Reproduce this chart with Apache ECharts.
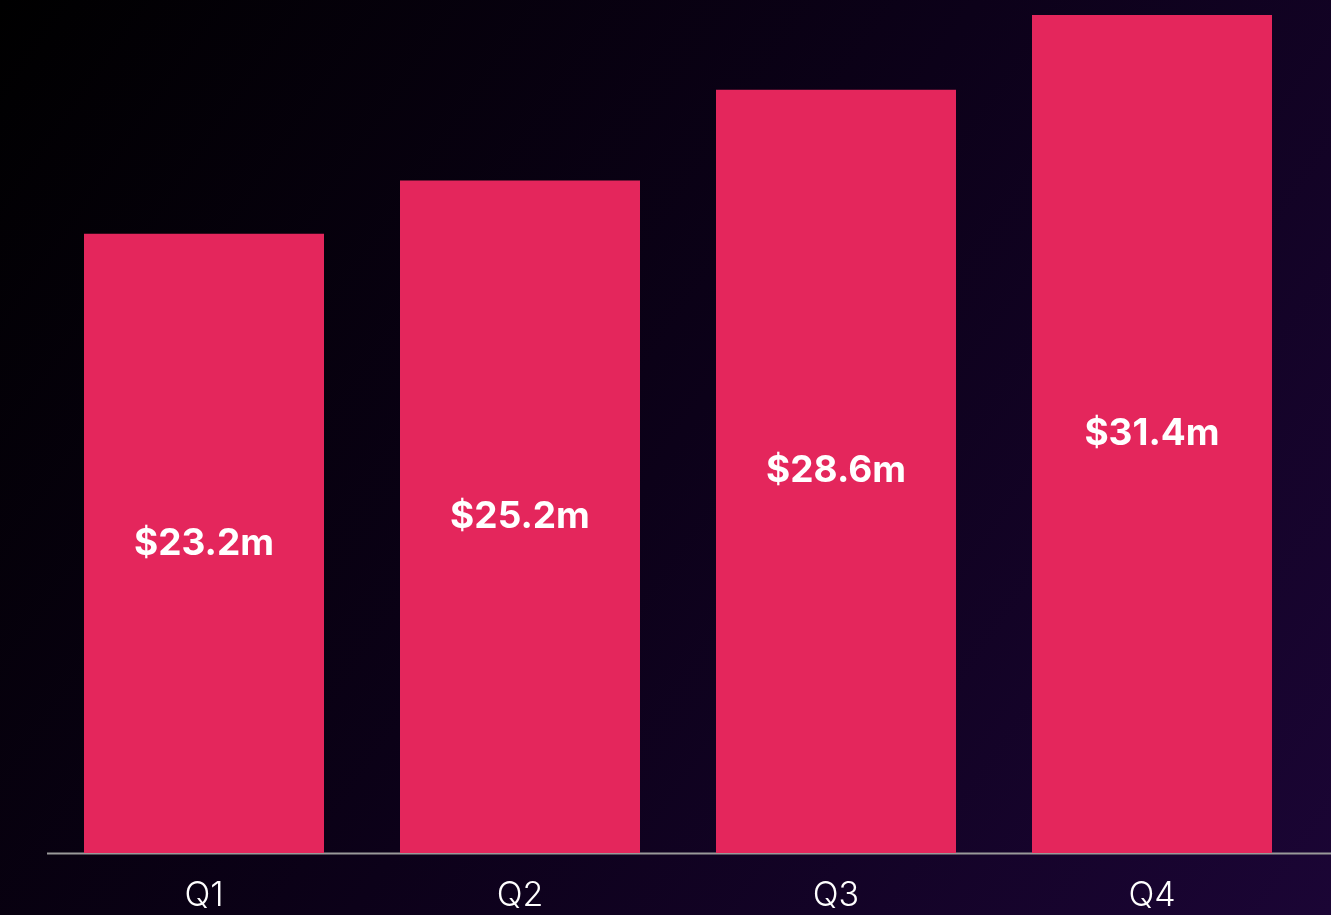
<!DOCTYPE html>
<html>
<head>
<meta charset="utf-8">
<script src="https://cdn.jsdelivr.net/npm/echarts@6/dist/echarts.min.js"></script>
<style>
  html, body { margin: 0; padding: 0; }
  #chart { width: 1331px; height: 915px; }
</style>
</head>
<body>
<div id="chart"></div>
<script>
const quarters = ["Q1", "Q2", "Q3", "Q4"];
const revenue = [23.2, 25.2, 28.6, 31.4];

const chart = echarts.init(document.getElementById("chart"));
const option = {
  backgroundColor: {
    type: "linear", x: 0, y: 0, x2: 1, y2: 1,
    colorStops: [
      { offset: 0, color: "#000000" },
      { offset: 0.5, color: "#0c0119" },
      { offset: 1, color: "#1b0535" },
    ],
  },
  grid: { left: 46, right: 21, top: 15, bottom: 62 },
  xAxis: {
    type: "category",
    data: quarters,
    axisLine: { show: false },
    axisTick: { show: false },
    axisLabel: {
      color: "#ffffff",
      fontFamily: "Inter",
      fontWeight: 300,
      fontSize: 34,
      margin: 26,
    },
  },
  yAxis: {
    type: "value",
    min: 0,
    max: 31.4,
    show: false,
    splitLine: { show: false },
  },
  // baseline runs to the right edge of the page
  graphic: [
    {
      type: "line",
      shape: { x1: 47, y1: 853.5, x2: 1331, y2: 853.5 },
      style: { stroke: "#9a9a9a", lineWidth: 2 },
    },
  ],
  series: [
    {
      type: "bar",
      data: revenue,
      barWidth: 240,
      itemStyle: { color: "#e4265c" },
      label: {
        show: true,
        position: "inside",
        color: "#ffffff",
        fontFamily: "Inter",
        fontWeight: "bold",
        fontSize: 37,
        formatter: (p) => "$" + p.value.toFixed(1) + "m",
      },
    },
  ],
};
chart.setOption(option);
</script>
</body>
</html>
